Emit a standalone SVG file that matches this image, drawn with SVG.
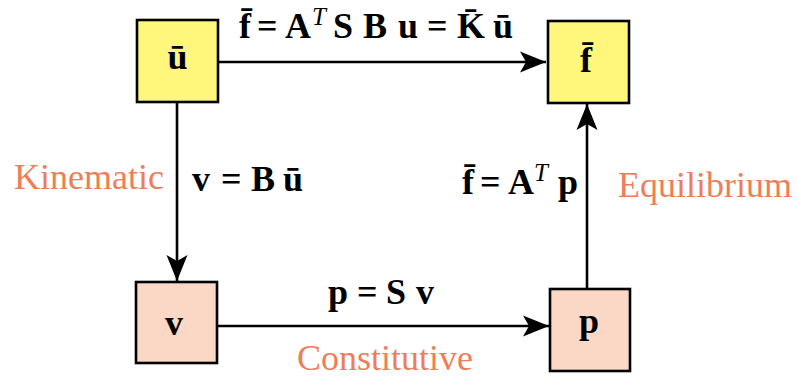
<svg xmlns="http://www.w3.org/2000/svg" width="798" height="377" viewBox="0 0 798 377">
<defs>
<style>
.box{stroke:#000;stroke-width:2.6}
.y{fill:#FEF77B}
.o{fill:#FBD8C5}
.m{font-family:"Liberation Serif","Times New Roman",serif;font-weight:bold;font-size:36px;fill:#000}
.t{font-family:"Liberation Serif","Times New Roman",serif;font-style:italic;font-weight:normal;font-size:25px;fill:#000}
.lab{font-family:"Liberation Serif","Times New Roman",serif;font-size:36px;fill:#EE7D5A}
.c{fill:none;stroke:#000;stroke-width:2.6}
</style>
<marker id="ah" markerUnits="userSpaceOnUse" markerWidth="30" markerHeight="24" refX="26" refY="11" orient="auto" viewBox="0 0 30 24">
<path d="M26,11 L0,0.5 L6,11 L0,21.5 Z" fill="#000"/>
</marker>
</defs>
<rect width="798" height="377" fill="#fff"/>
<g id="connectors">
<line class="c" x1="218" y1="62" x2="546" y2="62" marker-end="url(#ah)"/>
<line class="c" x1="177" y1="102" x2="177" y2="281" marker-end="url(#ah)"/>
<line class="c" x1="217" y1="326" x2="549" y2="326" marker-end="url(#ah)"/>
<line class="c" x1="587" y1="289" x2="587" y2="104" marker-end="url(#ah)"/>
</g>
<g id="node-u">
<rect class="box y" x="137" y="20" width="81" height="82"/>
<text class="m" x="177.5" y="69" text-anchor="middle">ū</text>
</g>
<g id="node-f">
<rect class="box y" x="548" y="21" width="81" height="82"/>
<text class="m" x="586" y="72" text-anchor="middle">f̄</text>
</g>
<g id="node-v">
<rect class="box o" x="136" y="282" width="81" height="81"/>
<text class="m" x="174" y="335" text-anchor="middle">v</text>
</g>
<g id="node-p">
<rect class="box o" x="550" y="289" width="80" height="82"/>
<text class="m" x="589" y="333" text-anchor="middle">p</text>
</g>
<g id="labels">
<text class="m" y="38"><tspan x="239">f̄</tspan><tspan x="257">=</tspan><tspan x="285">A</tspan><tspan x="312" class="t" dy="-13">T</tspan><tspan x="333" dy="13">S</tspan><tspan x="363">B</tspan><tspan x="398">u</tspan><tspan x="427">=</tspan><tspan x="457">K̄</tspan><tspan x="493">ū</tspan></text>
<text class="lab" x="14" y="189">Kinematic</text>
<text class="m" y="191"><tspan x="192">v</tspan><tspan x="221">=</tspan><tspan x="251">B</tspan><tspan x="283">ū</tspan></text>
<text class="m" y="194"><tspan x="462">f̄</tspan><tspan x="480">=</tspan><tspan x="508">A</tspan><tspan x="534" class="t" dy="-13">T</tspan><tspan x="558" dy="13">p</tspan></text>
<text class="lab" x="618" y="197">Equilibrium</text>
<text class="m" y="304"><tspan x="328">p</tspan><tspan x="357">=</tspan><tspan x="386">S</tspan><tspan x="416">v</tspan></text>
<text class="lab" x="297" y="370">Constitutive</text>
</g>
</svg>
